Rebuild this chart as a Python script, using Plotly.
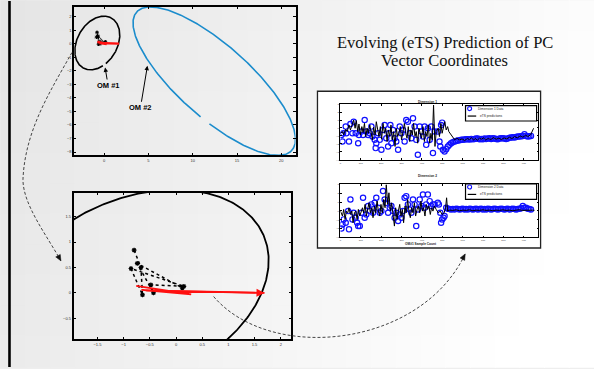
import numpy as np
import plotly.graph_objects as go

W, H = 594, 369

# ---------------- data ----------------
# confidence ellipses of the two operating modes
om1_centre = (-0.77, 0.05)
om1_extent = (2.54, 1.98)
om1_phase = 1.27
om1_gap = (-1.32, -1.18)

om2_centre = (12.43, -2.77)
om2_extent = (9.17, 5.48)
om2_phase = 2.47
om2_gap = (-1.74, -1.63)

# PC vector trajectory (black dotted) and eTS predicted trajectory (red)
traj_x = [-0.80, -0.67, -0.64, -0.86, 0.15, -0.48, -0.43, -0.74, 0.12]
traj_y = [0.84, 0.50, -0.04, 0.48, 0.13, 0.16, 0.00, 0.58, 0.10]
red_x = [-0.76, 0.29, -0.66, 0.25, -0.60, 1.69]
red_y = [0.14, -0.03, 0.06, 0.00, 0.05, 0.00]

# Dimension 1
dim1_t = [5,10,13,26,29,42,49,59,65,75,87,91,103,111,119,127,136,144,152,157,168,173,176,185,193,201,209,217,225,234,
          238,245,250,258,266,274,283,291,299,307,315,323,331,340,348,356,364,372,380,389,397,405,413,421,429,438,446,454,462,
          478,486,490,494,499,503,511,519,527,535,543,551,560,568,576,585,593,601,609,617,625,634,642,650,658,666,674,683,
          691,699,707,715,723,732,740,748,756,764,772,781,789,797,805,813,821,830,838,846,854,862,870,879,887,895,903,911,919,927,935]
dim1_v = [-0.88,-1.71,-0.67,0.17,-0.67,-1.71,0.50,-0.67,0.79,-0.67,-1.92,-0.88,-0.46,-0.88,1.00,-0.46,-0.88,-0.67,0.17,-1.08,
          -1.50,-2.54,-1.92,-0.67,-1.50,-2.75,-0.25,0.38,-1.29,-2.33,-0.67,0.38,-1.92,-0.25,-1.29,-1.71,-2.75,0.17,-0.67,-0.25,
          -1.71,1.00,0.79,-0.67,-1.29,1.21,0.17,-1.50,-3.38,0.17,-0.46,-1.08,0.17,-2.13,-0.04,-1.50,0.17,-3.17,-0.46,
          -0.46,-1.71,-2.33,0.38,0.67,-2.75,-2.96,-2.67,-2.33,-2.13,-1.92,-1.80,-1.71,-1.63,-1.58,-1.54,-1.50,-1.50,
          -1.46,-1.42,-1.42,-1.46,-1.38,-1.42,-1.38,-1.33,-1.33,-1.42,-1.38,-1.42,-1.33,-1.38,-1.33,-1.29,-1.38,-1.29,-1.33,-1.38,
          -1.42,-1.33,-1.29,-1.29,-1.33,-1.38,-1.33,-1.25,-1.21,-1.17,-1.21,-1.13,-1.08,-1.08,-1.04,-1.00,-0.79,-1.00,-1.08,-1.04,-1.00]
pred1_t = [0,10,16,26,33,42,49,59,65,72,78,85,91,98,105,111,118,124,131,137,144,150,157,163,170,176,183,189,196,202,
           209,216,222,229,235,242,248,255,261,268,274,281,287,294,300,307,314,320,327,333,340,346,353,359,366,372,379,385,392,398,
           405,412,418,425,431,438,444,451,457,464,470,480,486,493,499,506,512,519,526,532,542,552,561,571,584,597,610,623,633,643,
           653,663,672,682,692,702,712,725,738,751,764,777,790,803,816,829,842,855,868,882,895,908,921,934,944,948]
pred1_v = [-0.67,-0.46,-0.88,-0.17,-0.46,0.38,-0.25,0.58,1.00,-0.04,0.92,-0.46,0.50,-0.88,0.17,-0.58,0.58,-1.08,-0.04,-0.67,
           0.38,-0.46,-1.50,0.08,-0.88,0.79,-0.46,-1.08,0.17,-1.42,0.58,-0.67,-0.04,-1.71,-0.25,-1.08,0.38,-1.50,-0.46,-2.33,
           -0.04,-1.08,-0.67,0.17,-1.50,-0.46,0.58,-0.67,-1.29,0.17,-1.71,-0.25,-0.88,0.58,-1.08,-0.46,-1.92,-0.04,-0.67,-1.29,
           0.17,-1.71,-0.46,-1.08,0.38,-1.92,-0.67,-1.50,2.88,-2.33,-0.46,-0.04,-1.08,0.58,-0.67,0.17,0.79,-0.25,0.17,-0.46,
           -0.88,-1.29,-1.50,-1.29,-1.50,-1.38,-1.58,-1.33,-1.46,-1.25,-1.50,-1.33,-1.54,-1.29,-1.42,-1.25,-1.50,-1.33,-1.46,-1.21,
           -1.42,-1.29,-1.46,-1.25,-1.38,-1.17,-1.33,-1.08,-1.25,-1.00,-1.17,-0.92,-1.08,-0.83,-0.17,-0.04]

# Dimension 2
dim2_t = [5,10,16,26,38,42,49,59,65,75,82,87,95,103,111,119,127,136,144,152,160,168,176,185,193,201,209,217,225,234,
          242,250,258,266,274,283,291,299,307,315,323,331,340,348,356,364,372,380,389,397,405,413,421,429,438,446,454,462,
          478,483,490,494,499,506,511,519,527,535,543,551,560,568,576,585,593,601,609,617,625,634,642,650,658,666,674,
          683,691,699,707,715,723,732,740,748,756,764,772,781,789,797,805,813,821,830,838,846,854,862,870,879,887,895,903,911,919,927,935]
dim2_v = [-2.00,-1.53,-0.96,-1.34,-0.02,-2.09,1.30,-0.96,-0.21,-0.77,-1.34,-1.72,-1.72,-0.21,1.49,-0.77,-0.40,0.55,-0.02,0.74,
          -0.21,0.92,1.49,0.36,-0.21,-0.02,2.25,1.30,0.92,-0.21,0.36,0.55,-0.02,-0.77,-0.21,-1.15,-0.40,-0.77,-0.02,1.49,
          1.68,0.74,0.17,-0.21,1.30,0.74,-1.72,0.17,1.30,0.55,1.87,0.36,0.74,1.87,1.11,0.55,0.74,0.74,
          0.92,0.74,-0.21,-1.34,-0.96,-0.77,-0.58,0.36,0.25,0.21,0.17,0.21,0.17,0.25,0.21,0.17,0.21,
          0.25,0.17,0.21,0.17,0.25,0.21,0.17,0.21,0.25,0.17,0.21,0.25,0.17,0.21,0.17,0.25,0.21,0.17,0.21,0.25,
          0.21,0.17,0.21,0.25,0.21,0.17,0.21,0.25,0.17,0.21,0.25,0.21,0.17,0.21,0.25,0.30,0.55,0.36,0.36,0.25,0.21,0.17]
pred2_t = [0,10,16,23,29,36,42,49,56,62,69,75,82,88,95,101,108,114,121,127,134,140,147,154,160,167,173,180,186,193,
           199,206,212,219,225,232,238,245,251,258,265,271,278,284,291,297,304,310,317,323,330,336,343,349,356,363,369,376,382,389,
           395,402,408,415,421,428,434,441,447,454,461,470,480,490,499,509,516,521,526,535,552,568,584,601,617,633,650,666,682,699,
           715,731,748,764,780,797,813,829,846,862,878,895,911,927,944,952]
pred2_v = [-0.02,-0.58,0.17,-0.96,-0.02,-0.21,0.36,-0.40,-0.02,-1.34,-0.21,-0.02,-0.96,0.17,-0.58,-0.02,0.36,-0.21,0.74,-0.58,
           0.17,0.92,-0.21,0.36,-0.77,0.55,-0.21,1.11,-0.02,-0.58,0.74,-0.21,1.30,0.36,2.99,0.74,2.06,-0.02,0.92,-0.58,
           -1.72,0.36,-0.96,-0.02,0.74,-0.58,0.17,-1.34,0.55,-0.21,1.30,-0.02,-0.77,0.36,-0.21,0.92,-0.58,0.17,0.55,-0.21,
           1.11,-0.02,0.36,-0.58,0.74,0.17,0.55,-0.40,0.36,-0.02,0.55,0.17,-0.21,-0.02,-0.40,-0.21,0.36,1.49,-0.02,0.09,
           0.06,0.13,0.02,0.09,0.06,0.13,0.02,0.09,0.06,0.13,0.06,0.09,0.02,0.09,0.06,0.13,0.06,0.09,0.02,0.09,
           0.13,0.06,0.09,0.06,0.09,0.06]

top_xticks = [0, 5, 10, 15, 20]
top_yticks = [-8, -7, -6, -5, -4, -3, -2, -1, 0, 1, 2]
zoom_xticks = [-1.5, -1, -0.5, 0, 0.5, 1, 1.5, 2]
zoom_yticks = [-0.5, 0, 0.5, 1, 1.5]
count_ticks = [0, 100, 200, 300, 400, 500, 600, 700, 800, 900]
dim1_yticks = [-4, -3, -2, -1, 0, 1, 2, 3]
dim2_yticks = [-3, -2, -1, 0, 1, 2, 3]

title_lines = ["Evolving (eTS) Prediction of PC", "Vector Coordinates"]

# ---------------- helpers ----------------
def PX(x):
    return x / W

def PY(y):
    return 1 - y / H

def xd(a, b):
    return [a / W, b / W]

def yd(top, bot):
    return [1 - bot / H, 1 - top / H]

def ellipse(centre, extent, phase, gap, n=500):
    t = np.linspace(gap[1], gap[0] + 2 * np.pi, n)
    return centre[0] + extent[0] * np.cos(t), centre[1] + extent[1] * np.cos(t - phase)

def axis(domain, rng, tickvals, lw, anchor):
    return dict(domain=domain, range=rng, tickvals=tickvals, showline=True, linecolor="black",
                linewidth=lw, mirror="allticks", ticks="inside", ticklen=2.5, tickwidth=0.8,
                tickcolor="black", showgrid=False, zeroline=False, anchor=anchor,
                tickfont=dict(size=4, color="#333333", family="Liberation Sans"), fixedrange=True)

fig = go.Figure()

e1x, e1y = ellipse(om1_centre, om1_extent, om1_phase, om1_gap)
e2x, e2y = ellipse(om2_centre, om2_extent, om2_phase, om2_gap)

common = dict(hoverinfo="skip", showlegend=False)
# --- top-left panel
fig.add_trace(go.Scatter(x=e1x, y=e1y, mode="lines", line=dict(color="black", width=1.6), xaxis="x", yaxis="y", **common))
fig.add_trace(go.Scatter(x=e2x, y=e2y, mode="lines", line=dict(color="#1b8ccc", width=1.6), xaxis="x", yaxis="y", **common))
fig.add_trace(go.Scatter(x=traj_x, y=traj_y, mode="lines+markers", line=dict(color="black", width=0.8, dash="dot"),
                         marker=dict(symbol="asterisk-open", size=3, line=dict(color="black", width=1)),
                         xaxis="x", yaxis="y", **common))
fig.add_trace(go.Scatter(x=red_x, y=red_y, mode="lines", line=dict(color="#ff1010", width=2.4), xaxis="x", yaxis="y", **common))
# --- bottom-left zoom panel
fig.add_trace(go.Scatter(x=e1x, y=e1y, mode="lines", line=dict(color="black", width=1.8), xaxis="x2", yaxis="y2", **common))
fig.add_trace(go.Scatter(x=traj_x, y=traj_y, mode="lines+markers", line=dict(color="black", width=1.5, dash="dot"),
                         marker=dict(symbol="asterisk-open", size=4, line=dict(color="black", width=1.2)),
                         xaxis="x2", yaxis="y2", **common))
fig.add_trace(go.Scatter(x=red_x, y=red_y, mode="lines", line=dict(color="#ff1010", width=1.8), xaxis="x2", yaxis="y2", **common))
# --- dimension 1
fig.add_trace(go.Scatter(x=dim1_t, y=dim1_v, mode="markers",
                         marker=dict(symbol="circle-open", size=5.3, color="#1010ff", line=dict(width=1.2, color="#1010ff")),
                         xaxis="x3", yaxis="y3", **common))
fig.add_trace(go.Scatter(x=pred1_t, y=pred1_v, mode="lines", line=dict(color="black", width=1), xaxis="x3", yaxis="y3", **common))
# --- dimension 2
fig.add_trace(go.Scatter(x=dim2_t, y=dim2_v, mode="markers",
                         marker=dict(symbol="circle-open", size=5.3, color="#1010ff", line=dict(width=1.2, color="#1010ff")),
                         xaxis="x4", yaxis="y4", **common))
fig.add_trace(go.Scatter(x=pred2_t, y=pred2_v, mode="lines", line=dict(color="black", width=1), xaxis="x4", yaxis="y4", **common))

shapes = []
# background gradient
nx, ny = 24, 12
for i in range(nx):
    for j in range(ny):
        fx = (i + 0.5) / nx
        fy = (j + 0.5) / ny
        v = int(min(255, 229 + 24 * fx + 6 * fy))
        shapes.append(dict(type="rect", xref="paper", yref="paper", layer="below",
                           x0=i / nx - 0.001, x1=(i + 1) / nx + 0.001,
                           y0=1 - (j + 1) / ny - 0.002, y1=1 - j / ny + 0.002,
                           fillcolor=f"rgb({v},{v},{v})", line=dict(width=0)))
# left black bar
shapes.append(dict(type="rect", xref="paper", yref="paper", layer="below", x0=PX(7.2), x1=PX(9.8), y0=0, y1=1,
                   fillcolor="black", line=dict(width=0)))
# right panel frame
shapes.append(dict(type="rect", xref="paper", yref="paper", layer="below", x0=PX(317), x1=PX(540.5), y0=PY(249), y1=PY(91),
                   fillcolor="white", line=dict(color="#222222", width=1.3)))

# legends inside dimension panels
for top, label in [(105.5, "Dimension 1 Data"), (184.5, "Dimension 2 Data")]:
    shapes.append(dict(type="rect", xref="paper", yref="paper", x0=PX(465.3), x1=PX(536.5), y0=PY(top + 15.5), y1=PY(top),
                       fillcolor="white", line=dict(color="black", width=1.2)))
    shapes.append(dict(type="circle", xref="paper", yref="paper", x0=PX(467.4), x1=PX(471.4), y0=PY(top + 5), y1=PY(top + 1),
                       line=dict(color="#1010ff", width=1.1)))
    shapes.append(dict(type="line", xref="paper", yref="paper", x0=PX(467.5), x1=PX(476), y0=PY(top + 10.5), y1=PY(top + 10.5),
                       line=dict(color="black", width=1.2)))

# dashed connectors
def pth(pts):
    return " ".join(f"{PX(x):.5f},{PY(y):.5f}" for x, y in pts)

conn1 = f"M {pth([(71, 52)])} C {pth([(50, 90), (24, 130), (22, 180)])} C {pth([(22, 205), (45, 235), (60, 262)])}"
conn2 = f"M {pth([(213, 298)])} C {pth([(270, 365), (420, 350), (465, 255)])}"
for p in (conn1, conn2):
    shapes.append(dict(type="path", xref="paper", yref="paper", path=p,
                       line=dict(color="#444444", width=1, dash="3px,2px")))

def head(tip, frm, L=6, w=2.6):
    d = np.array(tip, float) - np.array(frm, float)
    d /= np.linalg.norm(d)
    n = np.array([-d[1], d[0]])
    b = np.array(tip) - L * d
    pts = [tuple(tip), tuple(b + w * n), tuple(b - w * n)]
    return f"M {pth([pts[0]])} L {pth([pts[1]])} L {pth([pts[2]])} Z"

for tip, frm in [((60, 262), (45, 235)), ((465, 255), (450, 283))]:
    shapes.append(dict(type="path", xref="paper", yref="paper", path=head(tip, frm),
                       fillcolor="#111111", line=dict(color="#111111", width=0.5)))

annotations = []
# title
for text, yc in zip(title_lines, [41.5, 59.5]):
    annotations.append(dict(xref="paper", yref="paper", x=PX(444.5), y=PY(yc), text=text, showarrow=False,
                            xanchor="center", yanchor="middle",
                            font=dict(family="Liberation Serif", size=16.5, color="#111111")))
# OM labels
annotations.append(dict(xref="x", yref="y", x=0.11, y=-1.76, ax=3, ay=18, text="<b>OM #1</b>", showarrow=True,
                        arrowhead=2, arrowsize=0.9, arrowwidth=1, arrowcolor="black",
                        font=dict(size=7.5, color="black", family="Liberation Sans")))
annotations.append(dict(xref="x", yref="y", x=4.89, y=-1.63, ax=-7, ay=42, text="<b>OM #2</b>", showarrow=True,
                        arrowhead=2, arrowsize=0.9, arrowwidth=1, arrowcolor="black",
                        font=dict(size=7.5, color="black", family="Liberation Sans")))
# red arrow head
annotations.append(dict(xref="x2", yref="y2", axref="x2", ayref="y2", x=red_x[-1], y=red_y[-1],
                        ax=red_x[-2], ay=red_y[-2], text="", showarrow=True, arrowhead=2, arrowsize=1,
                        arrowwidth=1.6, arrowcolor="#ff1010", standoff=0, startstandoff=0))
# small texts in the right panel
small = dict(size=3.2, color="#222222", family="Liberation Sans")
annotations.append(dict(xref="paper", yref="paper", x=PX(439), y=PY(97.5), text="<b>Dimension 1</b>", showarrow=False, font=small))
annotations.append(dict(xref="paper", yref="paper", x=PX(439), y=PY(176.5), text="<b>Dimension 2</b>", showarrow=False, font=small))
annotations.append(dict(xref="paper", yref="paper", x=PX(439), y=PY(245), text="<b>OM#1 Sample Count</b>", showarrow=False, font=small))
for top, label in [(105.5, "Dimension 1 Data"), (184.5, "Dimension 2 Data")]:
    annotations.append(dict(xref="paper", yref="paper", x=PX(475.5), y=PY(top + 3), text=label, showarrow=False,
                            xanchor="left", yanchor="middle", font=small))
    annotations.append(dict(xref="paper", yref="paper", x=PX(478), y=PY(top + 10.5), text="eTS predictions", showarrow=False,
                            xanchor="left", yanchor="middle", font=small))

fig.update_layout(
    width=W, height=H, margin=dict(l=0, r=0, t=0, b=0),
    paper_bgcolor="#eeeeee", plot_bgcolor="white", showlegend=False,
    xaxis=axis(xd(73.3, 295), [-3.38, 21.6], top_xticks, 1.6, "y"),
    yaxis=axis(yd(6, 155.7), [-8.25, 2.71], top_yticks, 1.6, "x"),
    xaxis2=axis(xd(72.7, 290.7), [-1.956, 2.2], zoom_xticks, 1.6, "y2"),
    yaxis2=axis(yd(193.3, 341), [-0.91, 1.97], zoom_yticks, 1.6, "x2"),
    xaxis3=axis(xd(340, 538), [0, 970], count_ticks, 1, "y3"),
    yaxis3=axis(yd(104, 160), [-4, 3], dim1_yticks, 1, "x3"),
    xaxis4=axis(xd(340, 538), [0, 970], count_ticks, 1, "y4"),
    yaxis4=axis(yd(185, 238.3), [-3, 3], dim2_yticks, 1, "x4"),
    shapes=shapes, annotations=annotations,
    font=dict(family="Liberation Sans"),
)
for k in ["xaxis3", "yaxis3", "xaxis4", "yaxis4"]:
    fig.layout[k].tickfont.size = 2.5
    fig.layout[k].ticklen = 1.5

fig.write_html("out.html", config={"displayModeBar": False},
               post_script="document.body.style.margin='0';document.body.style.overflow='hidden';")
